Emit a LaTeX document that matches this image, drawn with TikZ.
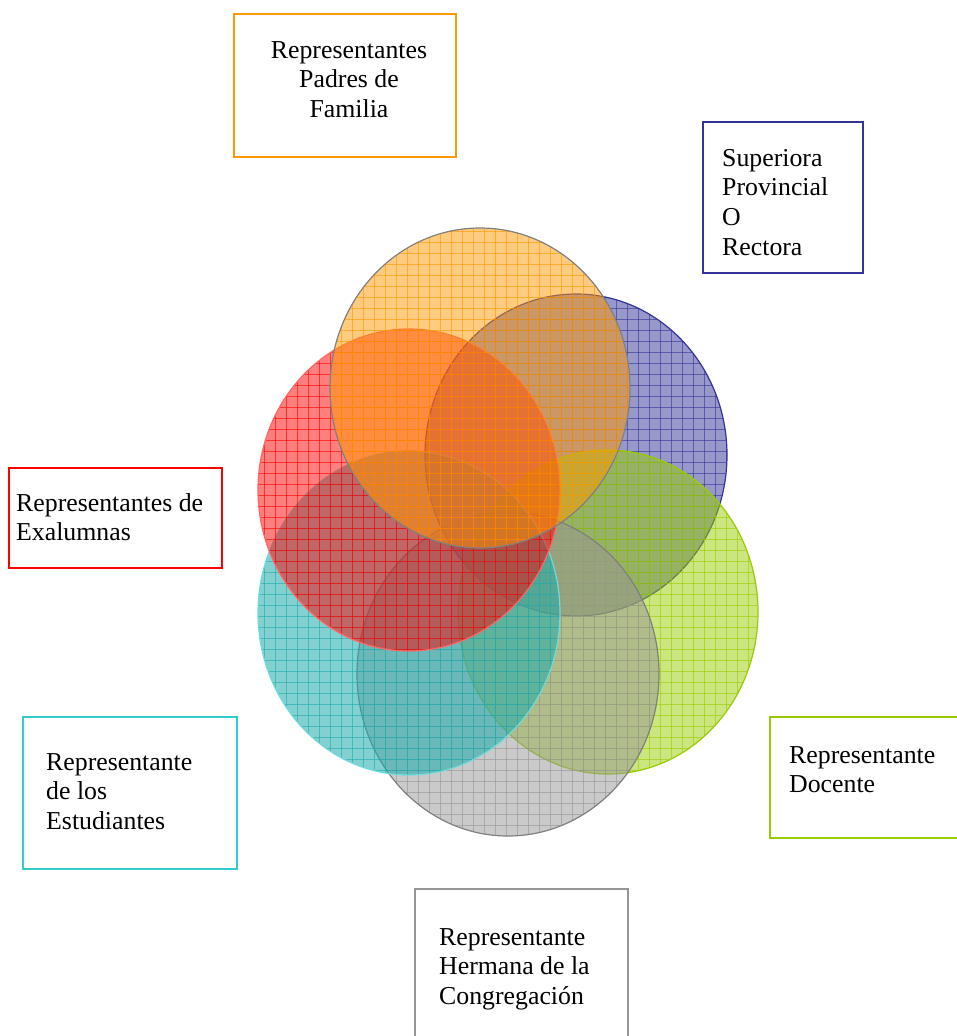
\documentclass[tikz,border=0pt]{standalone}
\usepackage{fontspec}
\setmainfont{Liberation Serif}
\usetikzlibrary{shapes.geometric}
\definecolor{cOrange}{RGB}{255,153,0}
\definecolor{cBlue}{RGB}{51,51,153}
\definecolor{cGreen}{RGB}{153,204,0}
\definecolor{cGray}{RGB}{150,150,150}
\definecolor{cCyan}{RGB}{30,170,170}
\definecolor{cRed}{RGB}{255,0,0}
\definecolor{cCyanBox}{RGB}{51,204,204}
\definecolor{cLine}{RGB}{128,128,128}
\tikzset{
  boxnode/.style={draw, line width=2, inner sep=0, rectangle},
  label text/.style={inner sep=0, align=left, anchor=north west, font=\fontsize{25.8}{29.7}\selectfont},
}
% name, cx, cy, rx, ry, fill colour, outline colour, fill opacity
\newcommand\venncirc[8]{%
  \node[ellipse, inner sep=0, minimum width=2*#4, minimum height=2*#5,
        fill=#6, fill opacity=#8, draw=none] (#1) at (#2,#3) {};
  \begin{scope}
    \clip (#2,#3) ellipse [x radius=#4, y radius=#5];
    \foreach \g in {0,11,...,1034} {
      \draw[#6, opacity=0.6, line width=0.8] (\g,0) -- (\g,1036);
      \draw[#6, opacity=0.6, line width=0.8] (0,\g) -- (956,\g);
    }
  \end{scope}
  \draw[#7, line width=1.2] (#2,#3) ellipse [x radius=#4, y radius=#5];
}
\begin{document}
\begin{tikzpicture}[x=1pt, y=-1pt]
\useasboundingbox (0,0) rectangle (956,1036);
\fill[white] (0,0) rectangle (956,1036);

% circles
\venncirc{cb}{576}{455}{151}{161}{cBlue}{cBlue}{0.5}
\venncirc{cg}{608}{612}{150}{162}{cGreen}{cGreen}{0.5}
\venncirc{cy}{508}{674}{151}{162}{cGray}{cLine}{0.5}
\venncirc{cc}{409}{613}{151}{162}{cCyan}{cCyanBox!70!white}{0.55}
\venncirc{cr}{409}{490}{151}{161}{cRed}{cRed!60!white}{0.5}
\venncirc{co}{480}{388}{150}{160}{cOrange}{cLine}{0.5}

% boxes
\node[boxnode, draw=cOrange, minimum width=222, minimum height=143] (bo) at (345,85.5) {};
\node[boxnode, draw=cBlue, minimum width=160, minimum height=151] (bb) at (783,197.5) {};
\node[boxnode, draw=cRed, minimum width=213, minimum height=100] (br) at (115.5,518) {};
\node[boxnode, draw=cCyanBox, minimum width=214, minimum height=152] (bc) at (130,793) {};
\node[boxnode, draw=cGreen, minimum width=214, minimum height=121] (bg) at (877,777.5) {};
\node[boxnode, draw=cGray, minimum width=213, minimum height=162] (by) at (521.5,970) {};

% texts
\node[label text, align=center, anchor=north] (to) at (349,41) {Representantes\\Padres de\\Familia};
\node[label text] (tb) at (722,149) {Superiora\\Provincial\\O\\Rectora};
\node[label text] (tr) at (16,493) {Representantes de\\Exalumnas};
\node[label text] (tc) at (46,753) {Representante\\de los\\Estudiantes};
\node[label text] (tg) at (789,746) {Representante\\Docente};
\node[label text] (ty) at (439,928) {Representante\\Hermana de la\\Congregación};
\end{tikzpicture}
\end{document}
